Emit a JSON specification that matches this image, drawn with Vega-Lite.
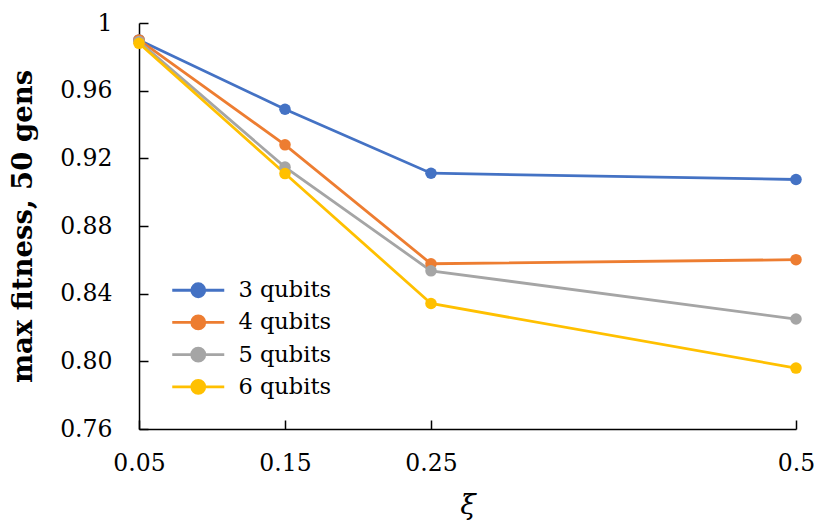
{
  "$schema": "https://vega.github.io/schema/vega-lite/v6.json",
  "width": 657,
  "height": 406,
  "autosize": {"type": "none"},
  "padding": {"left": 139, "top": 23, "right": 20, "bottom": 93},
  "background": "white",
  "config": {"view": {"stroke": null}, "font": "DejaVu Serif"},
  "data": {
    "values": [
      {"xi": 0.05, "series": "3 qubits", "fitness": 0.990},
      {"xi": 0.15, "series": "3 qubits", "fitness": 0.949},
      {"xi": 0.25, "series": "3 qubits", "fitness": 0.9112},
      {"xi": 0.5, "series": "3 qubits", "fitness": 0.9075},
      {"xi": 0.05, "series": "4 qubits", "fitness": 0.990},
      {"xi": 0.15, "series": "4 qubits", "fitness": 0.928},
      {"xi": 0.25, "series": "4 qubits", "fitness": 0.8577},
      {"xi": 0.5, "series": "4 qubits", "fitness": 0.8601},
      {"xi": 0.05, "series": "5 qubits", "fitness": 0.989},
      {"xi": 0.15, "series": "5 qubits", "fitness": 0.9148},
      {"xi": 0.25, "series": "5 qubits", "fitness": 0.8535},
      {"xi": 0.5, "series": "5 qubits", "fitness": 0.825},
      {"xi": 0.05, "series": "6 qubits", "fitness": 0.988},
      {"xi": 0.15, "series": "6 qubits", "fitness": 0.911},
      {"xi": 0.25, "series": "6 qubits", "fitness": 0.8342},
      {"xi": 0.5, "series": "6 qubits", "fitness": 0.796}
    ]
  },
  "encoding": {
    "x": {
      "field": "xi", "type": "quantitative",
      "scale": {"domain": [0.05, 0.5], "nice": false, "zero": false},
      "axis": {
        "values": [0.05, 0.15, 0.25, 0.5], "format": ".2~f", "title": "ξ", "grid": false,
        "domainColor": "black", "domainWidth": 1.5, "tickColor": "black", "tickWidth": 1.5,
        "tickSize": -9, "labelPadding": 31, "labelFont": "DejaVu Serif", "labelFontSize": 23.5,
        "labelColor": "black", "labelFlush": false, "labelOverlap": false,
        "titleFont": "DejaVu Serif", "titleFontStyle": "italic", "titleFontWeight": "normal",
        "titleFontSize": 28, "titleColor": "black", "titlePadding": 17
      }
    },
    "y": {
      "field": "fitness", "type": "quantitative",
      "scale": {"domain": [0.76, 1], "nice": false, "zero": false},
      "axis": {
        "values": [0.76, 0.8, 0.84, 0.88, 0.92, 0.96, 1],
        "labelExpr": "datum.value == 1 ? '1' : format(datum.value, '.2f')",
        "title": "max fitness, 50 gens", "grid": false,
        "domainColor": "black", "domainWidth": 1.5, "tickColor": "black", "tickWidth": 1.5,
        "tickSize": -9, "labelPadding": 36, "labelFont": "DejaVu Serif", "labelFontSize": 23.5,
        "labelColor": "black", "labelFlush": false, "labelOverlap": false,
        "titleFont": "DejaVu Serif", "titleFontWeight": "bold", "titleFontSize": 27.5,
        "titleColor": "black", "titlePadding": 22
      }
    },
    "color": {
      "field": "series", "type": "nominal",
      "scale": {
        "domain": ["3 qubits", "4 qubits", "5 qubits", "6 qubits"],
        "range": ["#4472C4", "#ED7D31", "#A5A5A5", "#FFC000"]
      },
      "legend": {
        "title": null, "orient": "none", "legendX": 48, "legendY": 256,
        "padding": 0, "rowPadding": 7.2,
        "symbolType": "M-4,0H4M1,0A1,1,0,1,1,-1,0A1,1,0,1,1,1,0Z",
        "symbolSize": 169, "symbolStrokeWidth": 2.8, "symbolOpacity": 1,
        "labelFont": "DejaVu Serif", "labelFontSize": 22.5, "labelColor": "black", "labelOffset": 29,
        "encode": {
          "symbols": {
            "update": {
              "fill": {"scale": "color", "field": "value"},
              "stroke": {"scale": "color", "field": "value"}
            }
          }
        }
      }
    }
  },
  "layer": [
    {"mark": {"type": "line", "strokeWidth": 2.8}},
    {"mark": {"type": "point", "filled": true, "size": 133, "opacity": 1}}
  ]
}
